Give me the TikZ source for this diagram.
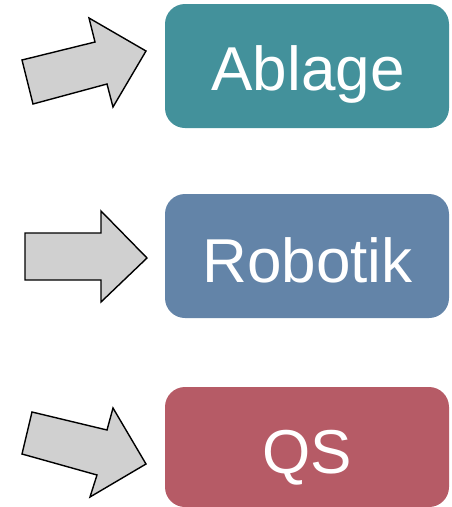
\documentclass[tikz,border=0pt]{standalone}
\usepackage{fontspec}
\setmainfont{Liberation Sans}
\definecolor{cA}{HTML}{43919B}
\definecolor{cR}{HTML}{6384A8}
\definecolor{cQ}{HTML}{B65B66}
\definecolor{arrfill}{HTML}{D0D0D0}
\tikzset{
  catbox/.style={draw=none, rounded corners=20pt, minimum width=284pt, inner sep=0pt},
  cattext/.style={text=white, font=\fontsize{62}{62}\selectfont, anchor=base, inner sep=0pt},
  blockarrow/.style={draw=black, fill=arrfill, line width=1.4pt, line join=miter}
}
\begin{document}
\begin{tikzpicture}[x=1pt,y=-1pt]
\useasboundingbox (0,0) rectangle (452,507);
% boxes
\node[catbox, fill=cA, minimum height=124pt] (ablage) at (307,66) {};
\node[catbox, fill=cR, minimum height=124pt] (robotik) at (307,256) {};
\node[catbox, fill=cQ, minimum height=120pt] (qs) at (307,447) {};
\node[cattext] (tA) at (308,90) {Ablage};
\node[cattext] (tR) at (307.5,282) {Robotik};
\node[cattext] (tQ) at (307,473.5) {QS};
% arrows
\draw[blockarrow] (22,60) -- (95,42) -- (89,18) -- (146,51) -- (113,107) -- (107,84) -- (33,104) -- cycle;
\draw[blockarrow] (25,233) -- (101,233) -- (101,211) -- (147,258) -- (101,302) -- (101,280) -- (25,280) -- cycle;
\draw[blockarrow] (32,412) -- (107,430) -- (113,408) -- (146,464) -- (90,497) -- (97,475) -- (22,454) -- cycle;
\end{tikzpicture}
\end{document}
